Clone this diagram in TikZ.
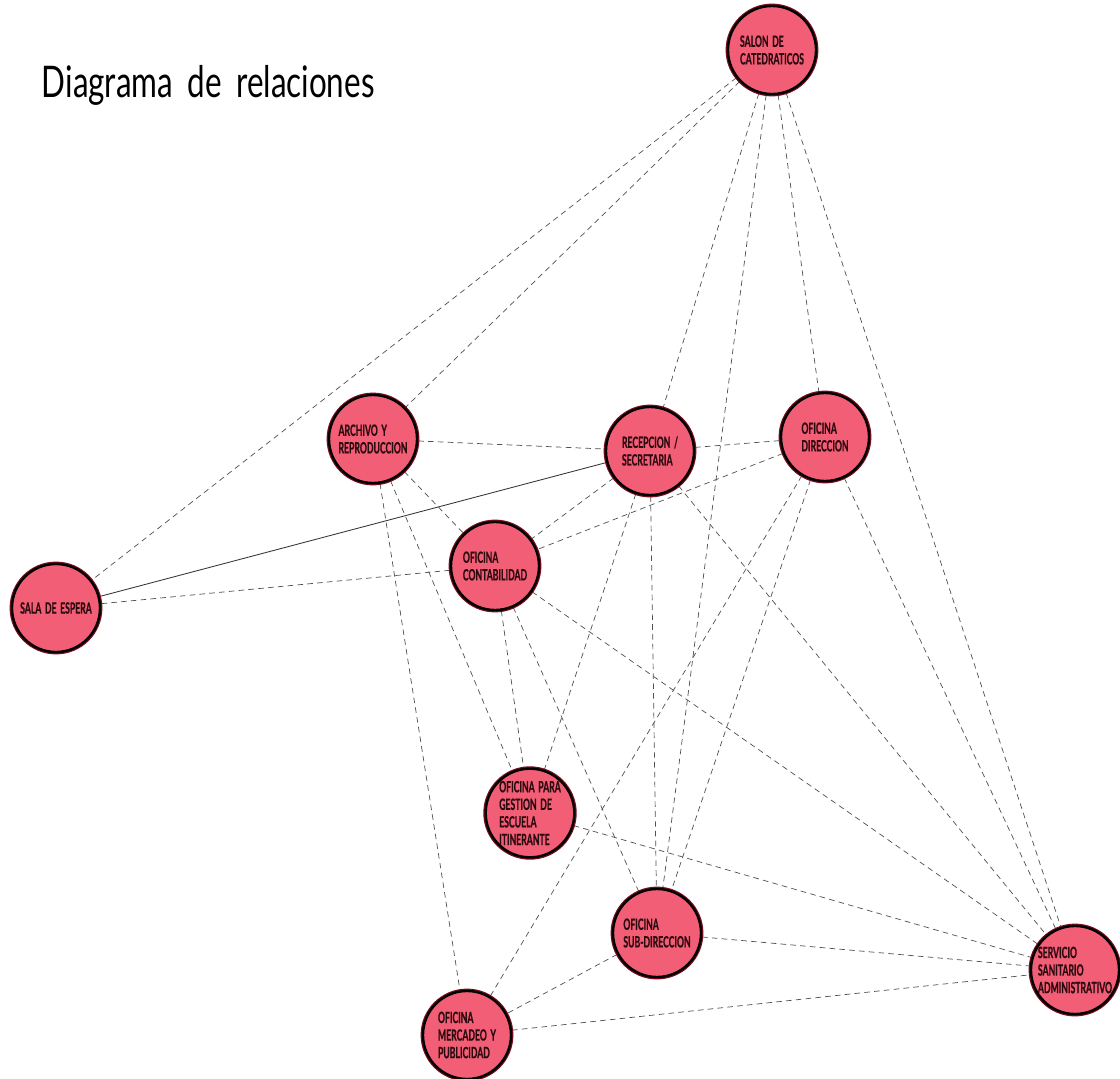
\documentclass[tikz,border=0pt]{standalone}
\usepackage{fontspec}
\setmainfont{Lato}
\newfontfamily\roomfont[FakeStretch=0.56,WordSpace=1.7,BoldFeatures={FakeBold=0.6}]{Lato}
\newfontfamily\titlefont[FakeStretch=0.72,WordSpace=1.8]{Lato}
\usepackage{tikz}
\usetikzlibrary{
  backgrounds
}
\definecolor{roomfill}{RGB}{242,94,118}
\definecolor{roomrim}{RGB}{120,12,28}
\definecolor{roomtext}{RGB}{45,10,16}
\definecolor{linkgray}{RGB}{80,80,80}

\begin{document}
\begin{tikzpicture}[x=0.025cm, y=-0.025cm,
  room/.style={circle, fill=roomfill, draw=black, line width=1.7pt,
    minimum size=2.2cm, inner sep=0pt, align=left, text=roomtext,
    font=\roomfont\bfseries\fontsize{11}{12.5}\selectfont,
    preaction={draw=roomrim, line width=3.4pt}},
  link/.style={draw=linkgray, line width=0.5pt, dash pattern=on 4pt off 3pt},
  solidlink/.style={draw=black!80, line width=0.6pt}
]
  \useasboundingbox (0,0) rectangle (1120,1079);

  \node[anchor=base west, font=\titlefont\fontsize{31}{36}\selectfont] (title) at (37,97) {Diagrama de relaciones};

  % Rooms
  \node[room] (salon)    at (772,50)   {SALON DE\\CATEDRATICOS};
  \node[room] (archivo)  at (373,439)  {ARCHIVO Y\\REPRODUCCION};
  \node[room] (recep)    at (650,451)  {RECEPCION /\\SECRETARIA};
  \node[room] (direc)    at (825,437)  {OFICINA\\DIRECCION};
  \node[room] (contab)   at (495,566)  {OFICINA\\CONTABILIDAD};
  \node[room] (sala)     at (56,608)   {SALA DE ESPERA};
  \node[room] (gestion)  at (530,813)  {OFICINA PARA\\GESTION DE\\ESCUELA\\ITINERANTE};
  \node[room] (subdir)   at (657,933)  {OFICINA\\SUB-DIRECCION};
  \node[room] (servicio) at (1075,970) {SERVICIO\\SANITARIO\\ADMINISTRATIVO};
  \node[room] (mercadeo) at (467,1035) {OFICINA\\MERCADEO Y\\PUBLICIDAD};

  % Relations
  \begin{scope}[on background layer]
    \fill[white] (0,0) rectangle (1120,1079);
    \foreach \a/\b in {salon/sala, salon/archivo, salon/recep, salon/subdir,
                       salon/direc, salon/servicio,
                       archivo/recep, archivo/contab, archivo/gestion, archivo/mercadeo,
                       recep/direc, recep/contab, recep/gestion, recep/subdir, recep/servicio,
                       direc/contab, direc/subdir, direc/mercadeo, direc/servicio,
                       contab/sala, contab/gestion, contab/subdir, contab/servicio,
                       gestion/servicio,
                       subdir/servicio, subdir/mercadeo,
                       mercadeo/servicio}
      \draw[link] (\a) -- (\b);
    \draw[solidlink] (sala) -- (recep);
  \end{scope}
\end{tikzpicture}
\end{document}
